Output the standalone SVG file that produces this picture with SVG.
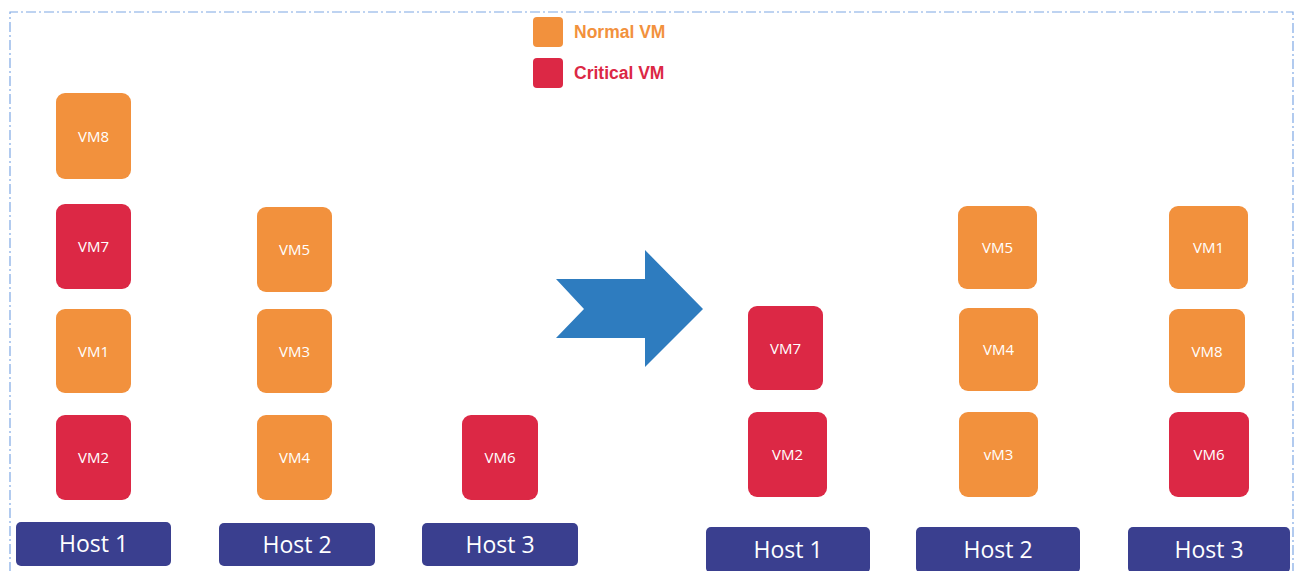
<svg xmlns="http://www.w3.org/2000/svg" width="1296" height="571" viewBox="0 0 1296 571">
  <style>
    .frame { fill: none; stroke: #7fa8e4; stroke-width: 1.2; stroke-dasharray: 10 3 2 3; }
    .normal { fill: #f2913d; }
    .critical { fill: #dc2845; }
    .host { fill: #3a3f8f; }
    .vmtxt { font-family: "Open Sans", "Noto Sans", sans-serif; font-size: 15px; fill: #ffffff; text-anchor: middle; }
    .hosttxt { font-family: "Open Sans", "Noto Sans", sans-serif; font-size: 23px; fill: #ffffff; text-anchor: middle; }
    .legtxt { font-family: "Liberation Sans", Arial, sans-serif; font-size: 17.5px; font-weight: bold; }
  </style>

  <!-- dash-dot outer frame (bottom edge runs past the canvas) -->
  <path class="frame" d="M10,590 V12 H1293 V590"/>

  <!-- legend -->
  <g id="legend">
    <rect class="normal" x="533" y="17" width="30" height="30" rx="4"/>
    <text class="legtxt" x="574" y="38" fill="#f2913d">Normal VM</text>
    <rect class="critical" x="533" y="58" width="30" height="30" rx="4"/>
    <text class="legtxt" x="574" y="79" fill="#dc2845">Critical VM</text>
  </g>

  <!-- before: hosts -->
  <g id="before-host1"><rect class="host" x="16" y="522" width="155" height="44" rx="5"/><text class="hosttxt" x="93.5" y="552">Host 1</text></g>
  <g id="before-host2"><rect class="host" x="219" y="523" width="156" height="43" rx="5"/><text class="hosttxt" x="297" y="553">Host 2</text></g>
  <g id="before-host3"><rect class="host" x="422" y="523" width="156" height="43" rx="5"/><text class="hosttxt" x="500" y="553">Host 3</text></g>

  <!-- before: VMs on host 1 -->
  <g id="before-vm8"><rect class="normal" x="56" y="93" width="75" height="86" rx="9"/><text class="vmtxt" x="93.5" y="141.5">VM8</text></g>
  <g id="before-vm7"><rect class="critical" x="56" y="204" width="75" height="85" rx="9"/><text class="vmtxt" x="93.5" y="252">VM7</text></g>
  <g id="before-vm1"><rect class="normal" x="56" y="309" width="75" height="84" rx="9"/><text class="vmtxt" x="93.5" y="356.5">VM1</text></g>
  <g id="before-vm2"><rect class="critical" x="56" y="415" width="75" height="85" rx="9"/><text class="vmtxt" x="93.5" y="463">VM2</text></g>

  <!-- before: VMs on host 2 -->
  <g id="before-vm5"><rect class="normal" x="257" y="207" width="75" height="85" rx="9"/><text class="vmtxt" x="294.5" y="255">VM5</text></g>
  <g id="before-vm3"><rect class="normal" x="257" y="309" width="75" height="84" rx="9"/><text class="vmtxt" x="294.5" y="356.5">VM3</text></g>
  <g id="before-vm4"><rect class="normal" x="257" y="415" width="75" height="85" rx="9"/><text class="vmtxt" x="294.5" y="463">VM4</text></g>

  <!-- before: VMs on host 3 -->
  <g id="before-vm6"><rect class="critical" x="462" y="415" width="76" height="85" rx="9"/><text class="vmtxt" x="500" y="463">VM6</text></g>

  <!-- transition arrow -->
  <g id="connectors">
    <polygon fill="#2e7cbf" points="556,279 645,279 645,250 703,309 645,367 645,338 556,338 584,309"/>
  </g>

  <!-- after: hosts -->
  <g id="after-host1"><rect class="host" x="706" y="527" width="164" height="46" rx="5"/><text class="hosttxt" x="788" y="558">Host 1</text></g>
  <g id="after-host2"><rect class="host" x="916" y="527" width="164" height="46" rx="5"/><text class="hosttxt" x="998" y="558">Host 2</text></g>
  <g id="after-host3"><rect class="host" x="1128" y="527" width="162" height="46" rx="5"/><text class="hosttxt" x="1209" y="558">Host 3</text></g>

  <!-- after: VMs on host 1 -->
  <g id="after-vm7"><rect class="critical" x="748" y="306" width="75" height="84" rx="9"/><text class="vmtxt" x="785.5" y="353.5">VM7</text></g>
  <g id="after-vm2"><rect class="critical" x="748" y="412" width="79" height="85" rx="9"/><text class="vmtxt" x="787.5" y="460">VM2</text></g>

  <!-- after: VMs on host 2 -->
  <g id="after-vm5"><rect class="normal" x="958" y="206" width="79" height="83" rx="9"/><text class="vmtxt" x="997.5" y="253">VM5</text></g>
  <g id="after-vm4"><rect class="normal" x="959" y="308" width="79" height="83" rx="9"/><text class="vmtxt" x="998.5" y="355">VM4</text></g>
  <g id="after-vm3"><rect class="normal" x="959" y="412" width="79" height="85" rx="9"/><text class="vmtxt" x="998.5" y="460">vM3</text></g>

  <!-- after: VMs on host 3 -->
  <g id="after-vm1"><rect class="normal" x="1169" y="206" width="79" height="83" rx="9"/><text class="vmtxt" x="1208.5" y="253">VM1</text></g>
  <g id="after-vm8"><rect class="normal" x="1169" y="309" width="76" height="84" rx="9"/><text class="vmtxt" x="1207" y="356.5">VM8</text></g>
  <g id="after-vm6"><rect class="critical" x="1169" y="412" width="80" height="85" rx="9"/><text class="vmtxt" x="1209" y="460">VM6</text></g>
</svg>
